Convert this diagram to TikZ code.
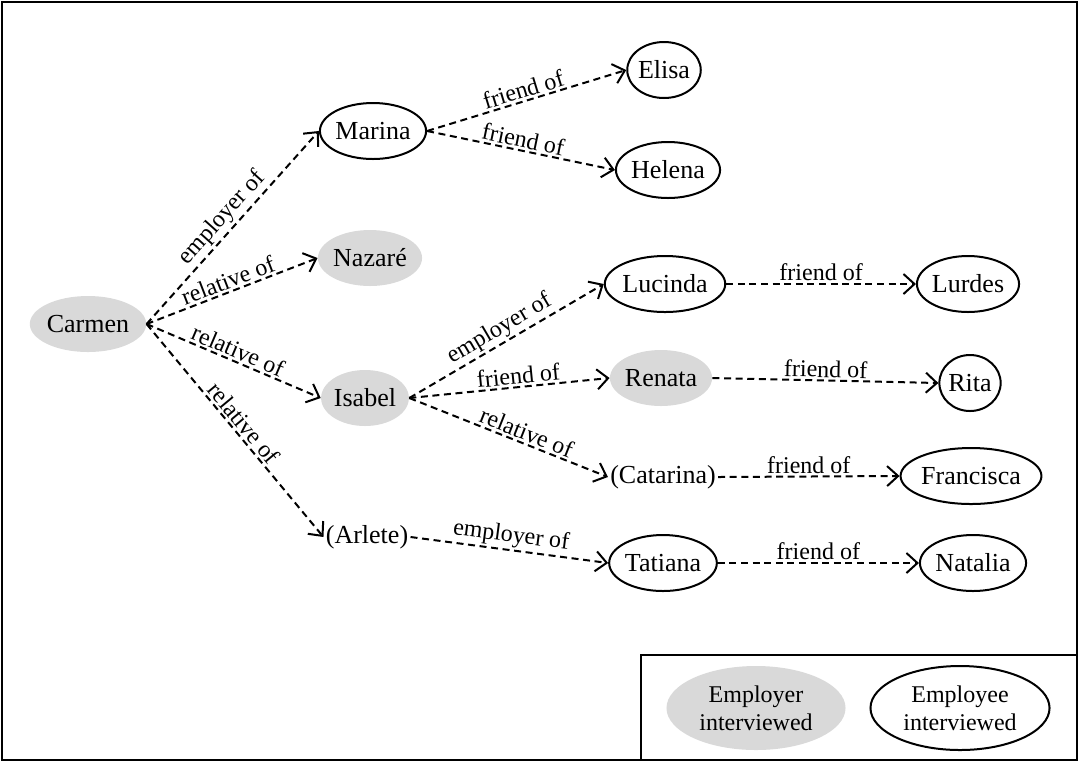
\documentclass[tikz,border=0pt]{standalone}
\usepackage{fontspec}
\setmainfont{Liberation Serif}
\usetikzlibrary{shapes.geometric,arrows.meta}
\definecolor{empgray}{RGB}{217,217,217}
\tikzset{
    EL1/.style ={ellipse,inner xsep=0pt,minimum height=28pt,draw,line width=1pt,font=\fontsize{13}{15}\selectfont},
    EL2/.style ={ellipse,inner xsep=0pt,minimum height=28pt,fill=empgray,font=\fontsize{13}{15}\selectfont},
    TX/.style ={inner sep=1pt,font=\fontsize{13}{15}\selectfont},
    LG1/.style ={ellipse,minimum width=87pt,minimum height=42pt,align=center,draw,line width=1pt,font=\fontsize{12}{14}\selectfont},
    LG2/.style ={ellipse,minimum width=87pt,minimum height=42pt,align=center,fill=empgray,font=\fontsize{12}{14}\selectfont},
    AR/.style ={dash pattern=on 3.5pt off 2.3pt,line width=1pt,-{Straight Barb[length=5.5pt,width=10pt]}},
    SU/.style ={midway,sloped,above,inner sep=1pt,font=\fontsize{12}{14}\selectfont}}
\begin{document}
\begin{tikzpicture}[x=0.5pt,y=-0.5pt]
        \useasboundingbox (0,0) rectangle (1079,762);
        \draw[line width=1pt] (2,2) rectangle (1077,760);
        \node[EL2] (carmen) at(88,324){Carmen};
        \node[EL1] (marina) at(373,131){Marina};
        \node[EL2] (nazare) at(370,258){Nazaré};
        \node[EL2] (isabel) at(365,398){Isabel};
        \node[TX] (arlete) at(367,537){(Arlete)};
        \node[EL1] (elisa) at(664,70){Elisa};
        \node[EL1] (helena) at(668,170){Helena};
        \node[EL1] (lucinda) at(665,284){Lucinda};
        \node[EL2] (renata) at(661,378){Renata};
        \node[TX] (catarina) at(663,477){(Catarina)};
        \node[EL1] (tatiana) at(663,563){Tatiana};
        \node[EL1] (lurdes) at(968,284){Lurdes};
        \node[EL1] (rita) at(970,383){Rita};
        \node[EL1] (francisca) at(971,476){Francisca};
        \node[EL1] (natalia) at(973,563){Natalia};
        \draw[AR] (carmen.east) --(marina.west) node[SU]{employer of};
        \draw[AR] (carmen.east) --(nazare.west) node[SU]{relative of};
        \draw[AR] (carmen.east) --(isabel.west) node[SU]{relative of};
        \draw[AR] (carmen.east) --(arlete.west) node[SU]{relative of};
        \draw[AR] (marina.east) --(elisa.west) node[SU]{friend of};
        \draw[AR] (marina.east) --(helena.west) node[SU]{friend of};
        \draw[AR] (isabel.east) --(lucinda.west) node[SU]{employer of};
        \draw[AR] (isabel.east) --(renata.west) node[SU,pos=0.55]{friend of};
        \draw[AR] (isabel.east) --(catarina.west) node[SU,pos=0.57]{relative of};
        \draw[AR] (arlete.east) --(tatiana.west) node[SU]{employer of};
        \draw[AR] (lucinda.east) --(lurdes.west) node[SU]{friend of};
        \draw[AR] (renata.east) --(rita.west) node[SU]{friend of};
        \draw[AR] (catarina.east) --(francisca.west) node[SU]{friend of};
        \draw[AR] (tatiana.east) --(natalia.west) node[SU]{friend of};
        % legend
        \draw[line width=0.8pt] (641,655) rectangle (1077,760);
        \node[LG2] (lgemp) at(756,708){Employer\\interviewed};
        \node[LG1] (lgwork) at(960,708){Employee\\interviewed};
    \end{tikzpicture}
\end{document}
